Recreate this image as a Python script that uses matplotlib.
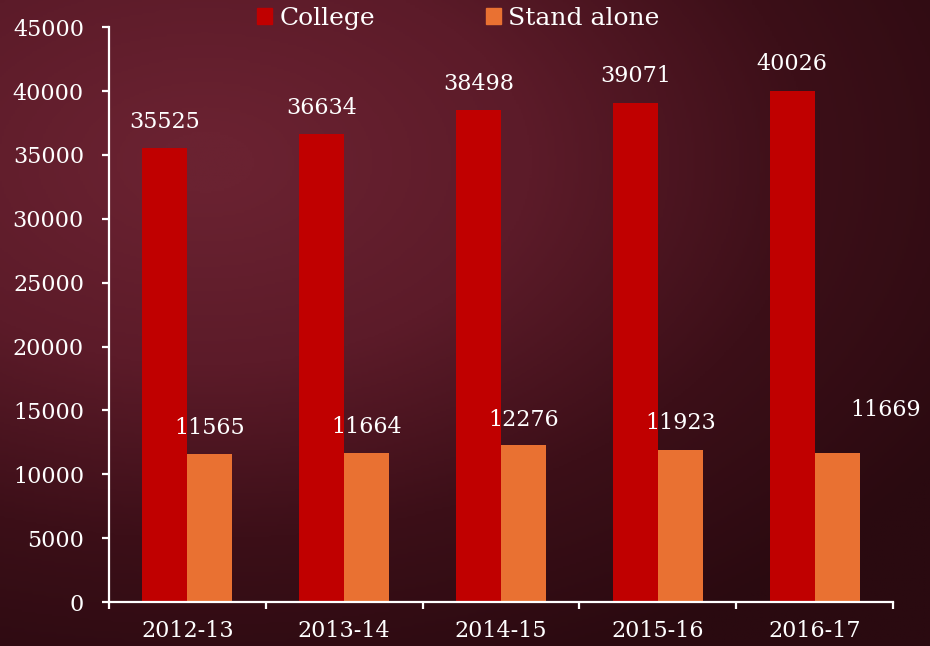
import numpy as np
import matplotlib.pyplot as plt
from matplotlib.patches import Patch
from matplotlib.colors import LinearSegmentedColormap

years = ["2012-13", "2013-14", "2014-15", "2015-16", "2016-17"]
college = [35525, 36634, 38498, 39071, 40026]
stand_alone = [11565, 11664, 12276, 11923, 11669]

plt.rcParams['font.family'] = ['DejaVu Serif']

fig = plt.figure(figsize=(9.3, 6.46), dpi=100)

# dark maroon backdrop, lighter towards the upper left
bg = fig.add_axes([0, 0, 1, 1], zorder=-1)
yy, xx = np.mgrid[0:1:300j, 0:1:430j]
d = np.sqrt(((xx - 0.22) / 1.0) ** 2 + ((yy - 0.25) / 0.9) ** 2)
cmap = LinearSegmentedColormap.from_list("maroon", ["#6a2231", "#5c1b29", "#3c0f18", "#2a0a10"])
bg.imshow(d, cmap=cmap, aspect='auto', extent=[0, 1, 0, 1], vmin=0.05, vmax=0.95)
bg.axis('off')

ax = fig.add_axes([0.1172, 0.068, 0.843, 0.890])
ax.patch.set_alpha(0)

x = np.arange(len(years))
w = 0.287
ax.bar(x - w / 2, college, w, color="#C00000", label="College")
ax.bar(x + w / 2, stand_alone, w, color="#E97132", label="Stand alone")

for i, v in enumerate(college):
    ax.annotate(str(v), (x[i] - w / 2, v), xytext=(0, 19), textcoords='offset points',
                ha='center', va='center', color='white', fontsize=16)
offsets = [(0, 19), (0, 19), (0, 18), (0, 19), (35, 31)]
for i, v in enumerate(stand_alone):
    ax.annotate(str(v), (x[i] + w / 2, v), xytext=offsets[i], textcoords='offset points',
                ha='center', va='center', color='white', fontsize=16)

ax.set_xlim(-0.5, 4.5)
ax.set_ylim(0, 45000)
ax.set_yticks(range(0, 45001, 5000))
ax.set_xticks(np.arange(-0.5, 5, 1))
ax.set_xticklabels([])
ax.set_xticks(x, minor=True)
ax.set_xticklabels(years, minor=True)

for s in ['top', 'right']:
    ax.spines[s].set_visible(False)
for s in ['left', 'bottom']:
    ax.spines[s].set_color('white')
    ax.spines[s].set_linewidth(1.6)

ax.tick_params(axis='y', colors='white', labelsize=16, length=5, width=1.6, pad=13)
ax.tick_params(axis='x', which='major', colors='white', length=5, width=1.6)
ax.tick_params(axis='x', which='minor', colors='white', labelsize=16, length=0, pad=13)

fig.legend(handles=[Patch(color="#C00000", label="College"),
                    Patch(color="#E97132", label="Stand alone")],
           loc='center', bbox_to_anchor=(0.493, 0.972), ncol=2, frameon=False,
           fontsize=18, labelcolor='white', handlelength=0.6, handleheight=0.6,
           handletextpad=0.3, columnspacing=4.4)

fig.savefig("out.png", dpi=100)
